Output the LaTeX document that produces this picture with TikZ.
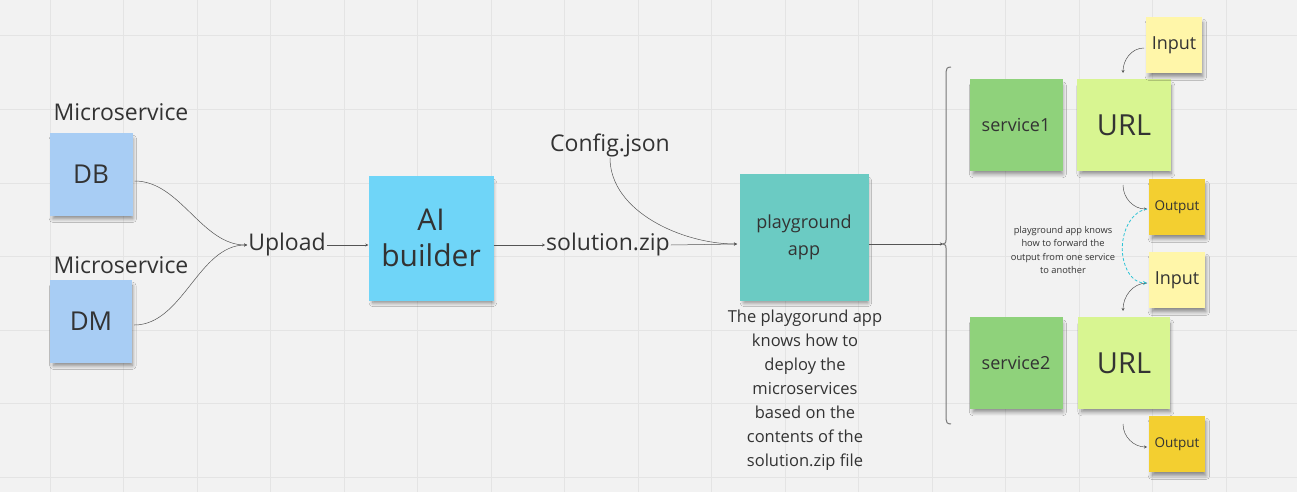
\documentclass[tikz,border=0pt]{standalone}
\usepackage{fontspec}
\setmainfont{Open Sans}
\usetikzlibrary{arrows.meta,shadows.blur}
\definecolor{bg}{HTML}{F2F2F2}
\definecolor{gridc}{HTML}{E4E4E4}
\definecolor{txt}{HTML}{333333}
\definecolor{blue1}{HTML}{A8CDF4}
\definecolor{aiblue}{HTML}{6FD5F8}
\definecolor{teal1}{HTML}{6BCBC3}
\definecolor{green1}{HTML}{8FD27B}
\definecolor{lime1}{HTML}{D8F591}
\definecolor{yel1}{HTML}{FFF6A9}
\definecolor{gold1}{HTML}{F3CF30}
\definecolor{cyan1}{HTML}{2EC4D6}
\definecolor{linec}{HTML}{555555}
\tikzset{
  note/.style={fill=#1, inner sep=0pt, text=txt, align=center,
    blur shadow={shadow xshift=2pt, shadow yshift=-5pt, shadow blur steps=8, shadow blur radius=4pt, shadow opacity=45, shadow scale=0.96}},
  plain/.style={inner sep=1pt, text=txt, align=center},
  conn/.style={draw=linec, line width=0.5pt, -{Stealth[length=3pt,width=3pt]}},
  dconn/.style={draw=cyan1, line width=0.8pt, dashed, dash pattern=on 3pt off 2pt, -{Stealth[length=4pt,width=4pt]}},
}
\begin{document}
\begin{tikzpicture}[x=1pt,y=-1pt]
\fill[bg] (0,0) rectangle (1297,492);
\useasboundingbox (0,0) rectangle (1297,492);
\foreach \k in {0,...,17} {\draw[gridc, line width=1pt] ({50+73.5*\k},0) -- ({50+73.5*\k},492);}
\foreach \k in {0,...,6} {\draw[gridc, line width=1pt] (0,{36+73.5*\k}) -- (1297,{36+73.5*\k});}

% left
\node[plain, font=\fontsize{23}{27}\selectfont] (ms1) at (121,112) {Microservice};
\node[plain, font=\fontsize{23}{27}\selectfont] (ms2) at (121,265) {Microservice};
\node[note=blue1, minimum width=83pt, minimum height=83pt, font=\fontsize{26}{30}\selectfont] (db) at (91,174) {DB};
\node[note=blue1, minimum width=82pt, minimum height=83pt, font=\fontsize{26}{30}\selectfont] (dm) at (91,321) {DM};
\node[plain, font=\fontsize{23}{27}\selectfont] (upload) at (287,245) {Upload};
\node[note=aiblue, minimum width=125pt, minimum height=125pt, font=\fontsize{30}{36}\selectfont] (ai) at (431,238) {AI\\builder};
\node[plain, font=\fontsize{23}{27}\selectfont] (zip) at (608,245) {solution.zip};
\node[plain, font=\fontsize{23}{27}\selectfont] (cfg) at (610,145) {Config.json};
\node[note=teal1, minimum width=129pt, minimum height=127pt, font=\fontsize{18}{27}\selectfont] (pg) at (804,237) {playground\\app};
\node[plain, font=\fontsize{16.5}{24}\selectfont, anchor=north] (desc) at (805,309) {The playgorund app\\knows how to\\deploy the\\microservices\\based on the\\contents of the\\solution.zip file};

\coordinate (dbo) at ($(db.east)+(2,7)$);
\coordinate (dmo) at ($(dm.east)+(2,4)$);
\draw[conn] (dbo) to[out=0,in=180,looseness=0.9] (upload.west);
\draw[conn] (dmo) to[out=0,in=180,looseness=0.9] (upload.west);
\draw[conn] (upload.east) -- (ai.west |- upload.east);
\draw[conn] (ai.east |- zip.west) -- (zip.west);
\coordinate (pgin) at (737,244);
\draw[conn] (zip.east) -- (pgin);
\draw[conn] (cfg.south) to[out=-90,in=180,looseness=0.9] (pgin);

% bracket
\coordinate (brtop) at (951,67);
\coordinate (brmid) at (943,244);
\coordinate (brbot) at (951,424);
\draw[linec!80, line width=1pt] (brtop) .. controls (947,67) and (946,69) .. (946,72) -- (946,240) .. controls (946,243) .. (brmid) .. controls (946,245) .. (946,248) -- (946,419) .. controls (946,422) and (947,424) .. (brbot);
\draw[conn] (pg.east |- brmid) -- (brmid);

% right
\node[note=green1, minimum width=93pt, minimum height=92pt, font=\fontsize{18}{22}\selectfont] (s1) at (1016,125) {service1};
\node[note=lime1, minimum width=94pt, minimum height=92pt, font=\fontsize{29}{32}\selectfont] (u1) at (1124,125) {URL};
\node[note=yel1, minimum width=56pt, minimum height=56pt, font=\fontsize{18}{22}\selectfont] (i1) at (1174,45) {Input};
\node[note=gold1, minimum width=56pt, minimum height=56pt, font=\fontsize{13.5}{16}\selectfont] (o1) at (1177,207) {Output};
\node[note=yel1, minimum width=56pt, minimum height=56pt, font=\fontsize{18}{22}\selectfont] (i2) at (1177,280) {Input};
\node[note=green1, minimum width=93pt, minimum height=92pt, font=\fontsize{18}{22}\selectfont] (s2) at (1016,363) {service2};
\node[note=lime1, minimum width=92pt, minimum height=92pt, font=\fontsize{29}{32}\selectfont] (u2) at (1124,363) {URL};
\node[note=gold1, minimum width=56pt, minimum height=56pt, font=\fontsize{13.5}{16}\selectfont] (o2) at (1177,444) {Output};
\node[plain, font=\fontsize{9.3}{13.6}\selectfont] (fwd) at (1063,250) {playground app knows\\how to forward the\\output from one service\\to another};

\coordinate (i1s) at (1144,48);
\coordinate (u1t) at (1123,73);
\draw[conn] (i1s) to[out=180,in=90] (u1t);
\coordinate (u1b) at (1123,185);
\coordinate (o1w) at (1147,209);
\draw[conn] (u1b) to[out=-90,in=180] (o1w);
\coordinate (i2w) at (1147,283);
\draw[dconn] (o1w) .. controls (1128,212) and (1118,240) .. (1124,262) .. controls (1128,276) and (1136,283) .. (i2w);
\coordinate (u2t) at (1123,311);
\draw[conn] (i2w) to[out=180,in=90] (u2t);
\coordinate (u2b) at (1123,424);
\coordinate (o2w) at (1147,447);
\draw[conn] (u2b) to[out=-90,in=180] (o2w);
\end{tikzpicture}
\end{document}
